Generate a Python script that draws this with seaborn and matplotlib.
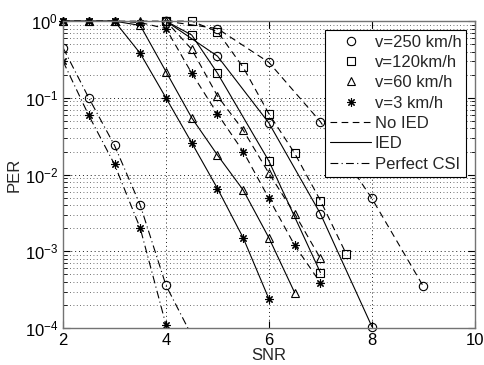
import numpy as np
import matplotlib
matplotlib.use('Agg')
import matplotlib.pyplot as plt
from matplotlib.lines import Line2D
from matplotlib.ticker import LogLocator, NullFormatter
import seaborn as sns

sns.set_style('ticks')
plt.rcParams['font.family'] = ['Liberation Sans', 'DejaVu Sans']
plt.rcParams['mathtext.fontset'] = 'custom'
plt.rcParams['mathtext.rm'] = 'Liberation Sans'

# Perfect CSI
snr_pcsi_250 = [2, 2.5, 3, 3.5, 4, 4.5]
per_pcsi_250 = [0.45, 0.1, 0.024, 0.004, 3.6e-4, 8e-5]
snr_pcsi_3 = [2, 2.5, 3, 3.5, 4]
per_pcsi_3 = [0.3, 0.059, 0.0136, 0.002, 1.1e-4]

# IED
snr_ied_3 = [2, 2.5, 3, 3.5, 4, 4.5, 5, 5.5, 6]
per_ied_3 = [1, 1, 1, 0.38, 0.1, 0.026, 0.0066, 0.0015, 2.4e-4]
snr_ied_60 = [2, 2.5, 3, 3.5, 4, 4.5, 5, 5.5, 6, 6.5]
per_ied_60 = [1, 1, 1, 0.88, 0.22, 0.055, 0.018, 0.0063, 0.0015, 2.9e-4]
snr_ied_120 = [4, 4.5, 5, 6, 7]
per_ied_120 = [1, 0.66, 0.21, 0.015, 5.3e-4]
snr_ied_250 = [4, 5, 6, 7, 8]
per_ied_250 = [1, 0.35, 0.047, 0.0031, 1.05e-4]

# No IED
snr_no_3 = [2, 2.5, 3, 3.5, 4, 4.5, 5, 5.5, 6, 6.5, 7]
per_no_3 = [1, 1, 1, 0.96, 0.8, 0.21, 0.062, 0.02, 0.0049, 0.0012, 3.9e-4]
snr_no_60 = [2, 2.5, 3, 3.5, 4, 4.5, 5, 5.5, 6, 6.5, 7]
per_no_60 = [1, 1, 1, 1, 1, 0.43, 0.106, 0.038, 0.0104, 0.0031, 8.1e-4]
snr_no_120 = [4, 4.5, 5, 5.5, 6, 6.5, 7, 7.5]
per_no_120 = [1, 1, 0.73, 0.25, 0.062, 0.019, 0.0046, 9.3e-4]
snr_no_250 = [4, 5, 6, 7, 8, 9]
per_no_250 = [1, 0.8, 0.29, 0.049, 0.0049, 3.5e-4]

star = (8, 2, 0)
mk = {'250': 'o', '120': 's', '60': '^', '3': star}
ls_no = (0, (6, 4))
ls_ied = '-'
ls_pcsi = (0, (7, 3, 1, 3))

fig = plt.figure(figsize=(4.85, 3.65), dpi=100)
ax = fig.add_axes([0.130, 0.101, 0.849, 0.841])


def draw(x, y, m, ls, clip=False):
    sns.lineplot(x=x, y=y, ax=ax, color='k', linewidth=0.8, linestyle=ls,
                 marker=m, markersize=6, markerfacecolor='none',
                 markeredgecolor='k', markeredgewidth=0.8,
                 clip_on=clip, sort=False, errorbar=None)


draw(snr_pcsi_250, per_pcsi_250, mk['250'], ls_pcsi, clip=True)
draw(snr_pcsi_3, per_pcsi_3, mk['3'], ls_pcsi, clip=True)
draw(snr_ied_3, per_ied_3, mk['3'], ls_ied)
draw(snr_ied_60, per_ied_60, mk['60'], ls_ied)
draw(snr_ied_120, per_ied_120, mk['120'], ls_ied)
draw(snr_ied_250, per_ied_250, mk['250'], ls_ied)
draw(snr_no_3, per_no_3, mk['3'], ls_no)
draw(snr_no_60, per_no_60, mk['60'], ls_no)
draw(snr_no_120, per_no_120, mk['120'], ls_no)
draw(snr_no_250, per_no_250, mk['250'], ls_no)

ax.set_yscale('log')
ax.set_xlim(2, 10)
ax.set_ylim(1e-4, 1)
ax.set_xticks([2, 4, 6, 8, 10])
ax.yaxis.set_major_locator(LogLocator(base=10, numticks=10))
ax.yaxis.set_minor_locator(LogLocator(base=10, subs=np.arange(2, 10), numticks=20))
ax.yaxis.set_minor_formatter(NullFormatter())
ax.grid(True, which='major', axis='both', linestyle=(0, (1, 3)), color='0.1', linewidth=0.7)
ax.grid(True, which='minor', axis='y', linestyle=(0, (1, 3)), color='0.25', linewidth=0.6)
ax.tick_params(which='both', direction='in', top=True, right=True, labelsize=12, colors='k')
ax.tick_params(which='major', length=5)
ax.tick_params(which='minor', length=3)
for s in ax.spines.values():
    s.set_color('0.45')
    s.set_linewidth(1.0)
ax.set_xlabel('SNR', fontsize=12, labelpad=0)
ax.set_ylabel('PER', fontsize=12, labelpad=2)

handles = [
    Line2D([], [], color='k', linestyle='none', marker='o', mfc='none', ms=6, mew=0.8),
    Line2D([], [], color='k', linestyle='none', marker='s', mfc='none', ms=6, mew=0.8),
    Line2D([], [], color='k', linestyle='none', marker='^', mfc='none', ms=6, mew=0.8),
    Line2D([], [], color='k', linestyle='none', marker=star, mfc='none', ms=6, mew=0.8),
    Line2D([], [], color='k', linestyle=ls_no, lw=0.8),
    Line2D([], [], color='k', linestyle=ls_ied, lw=0.8),
    Line2D([], [], color='k', linestyle=ls_pcsi, lw=0.8),
]
labels = ['v=250 km/h', 'v=120km/h', 'v=60 km/h', 'v=3 km/h', 'No IED', 'IED', 'Perfect CSI']
leg = ax.legend(handles, labels, loc='upper right', fontsize=12, frameon=True,
                fancybox=False, framealpha=1, edgecolor='k', handlelength=2.5,
                handletextpad=0.2, labelspacing=0.32, borderpad=0.3,
                borderaxespad=0.5)
leg.get_frame().set_linewidth(0.8)

fig.savefig('out.png', dpi=100)
